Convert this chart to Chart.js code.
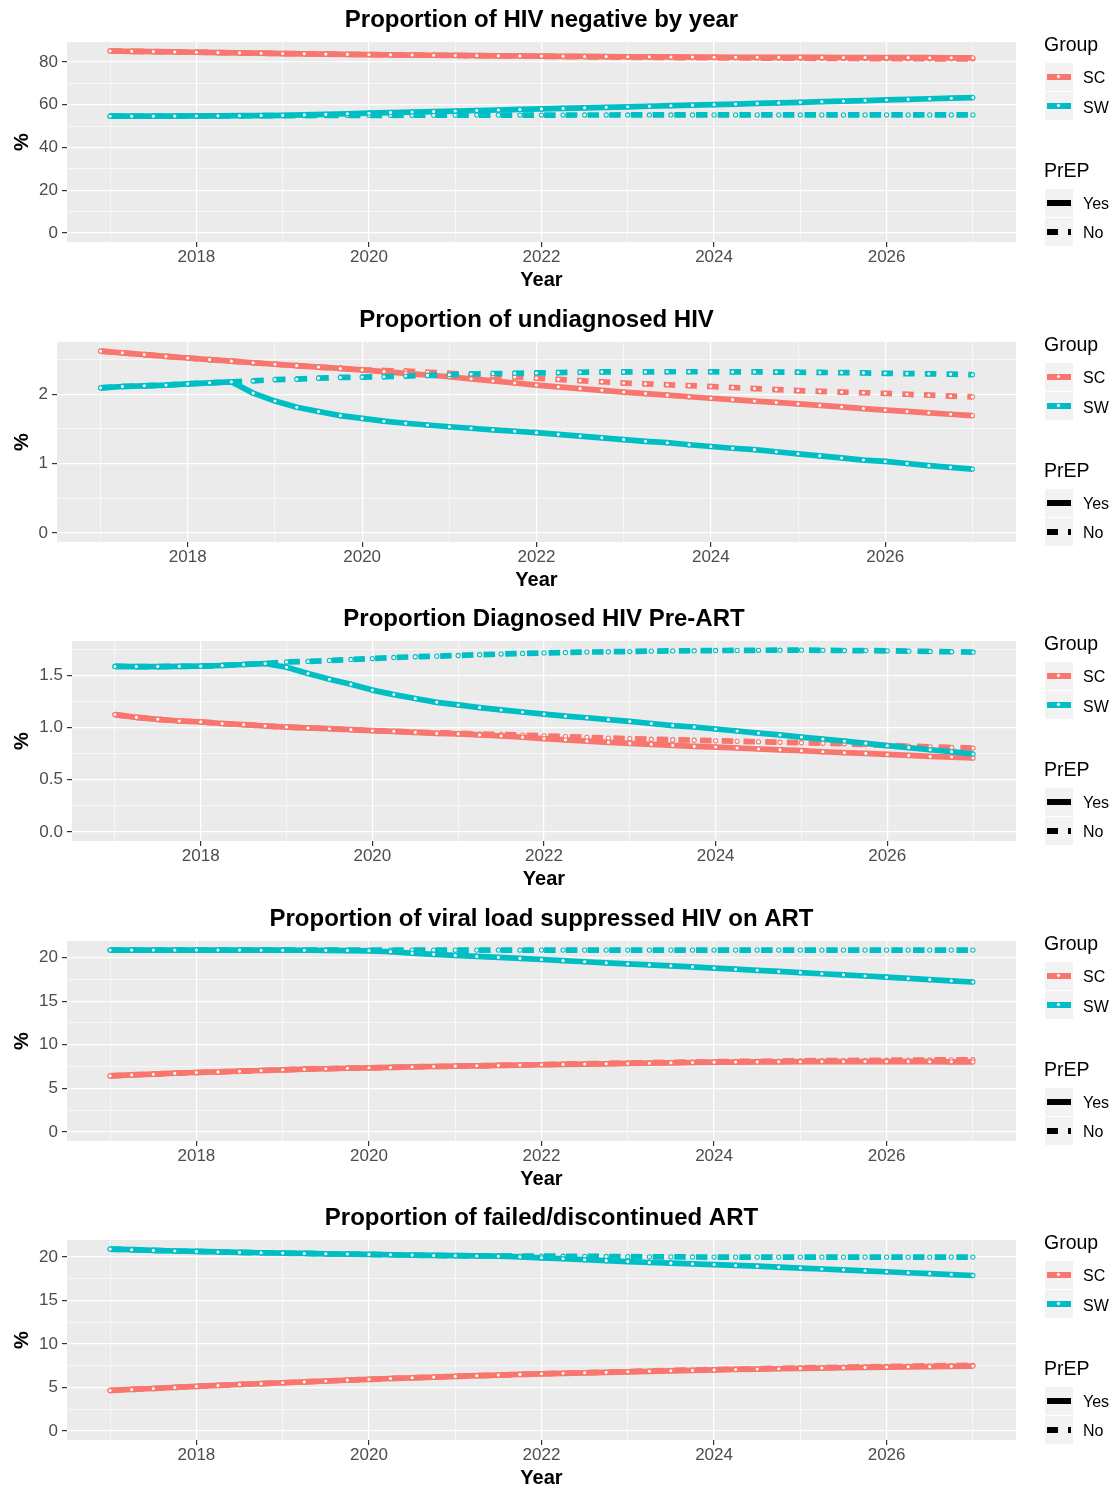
<!DOCTYPE html>
<html>
<head>
<meta charset="utf-8">
<script src="https://cdn.jsdelivr.net/npm/chart.js@4/dist/chart.umd.min.js"></script>
<style>
  html, body { margin: 0; padding: 0; background: #fff; width: 1113px; height: 1488px; overflow: hidden;
    font-family: "Liberation Sans", Arial, Helvetica, sans-serif; }
  .panel { position: absolute; left: 0; width: 1113px; height: 300px; }
  .panel canvas { position: absolute; left: 0; top: 0; }
  .lg-title { position: absolute; left: 1044px; height: 24px; line-height: 24px; font-size: 19.5px; color: #000; white-space: nowrap; }
  .lg-key { position: absolute; left: 1045px; width: 28px; height: 28px; background: #F2F2F2; }
  .lg-lab { position: absolute; left: 1083px; height: 20px; line-height: 20px; font-size: 16px; color: #000; white-space: nowrap; }
  .bar { position: absolute; top: 11.2px; height: 5.7px; }
  .dot { position: absolute; left: 11.4px; top: 11.4px; width: 3px; height: 3px; border-radius: 50%; background: #fff; border: 1px solid; }
</style>
</head>
<body>
<script>
// Quarterly time points, 2017 to 2027
const quarters = [2017, 2017.25, 2017.5, 2017.75, 2018, 2018.25, 2018.5, 2018.75, 2019, 2019.25, 2019.5, 2019.75,
  2020, 2020.25, 2020.5, 2020.75, 2021, 2021.25, 2021.5, 2021.75, 2022, 2022.25, 2022.5, 2022.75,
  2023, 2023.25, 2023.5, 2023.75, 2024, 2024.25, 2024.5, 2024.75, 2025, 2025.25, 2025.5, 2025.75,
  2026, 2026.25, 2026.5, 2026.75, 2027];

// Proportion of HIV negative by year
const hivNeg_SC_Yes = [85.1,84.95,84.8,84.65, 84.5,84.35,84.2,84.05, 83.9,83.77,83.65,83.52, 83.4,83.3,83.2,83.1, 83.0,82.92,82.85,82.77, 82.7,82.62,82.55,82.47, 82.4,82.35,82.3,82.25, 82.2,82.17,82.15,82.12, 82.1,82.07,82.05,82.02, 82.0,81.97,81.95,81.92, 81.9];
const hivNeg_SC_No  = [85.1,84.95,84.8,84.65, 84.5,84.35,84.2,84.05, 83.9,83.77,83.65,83.52, 83.4,83.3,83.2,83.1, 83.0,82.9,82.8,82.7, 82.6,82.5,82.4,82.3, 82.2,82.12,82.05,81.97, 81.9,81.85,81.8,81.75, 81.7,81.65,81.6,81.55, 81.5,81.47,81.45,81.42, 81.4];
const hivNeg_SW_Yes = [54.6,54.6,54.62,54.65, 54.7,54.75,54.82,54.9, 55.0,55.2,55.45,55.75, 56.0,56.25,56.5,56.75, 57.0,57.25,57.5,57.75, 58.0,58.25,58.5,58.75, 59.0,59.25,59.5,59.75, 60.0,60.27,60.55,60.82, 61.1,61.37,61.65,61.92, 62.2,62.47,62.75,63.02, 63.3];
const hivNeg_SW_No  = [54.6,54.6,54.62,54.65, 54.7,54.74,54.78,54.82, 54.86,54.9,54.93,54.96, 55.0,55.02,55.04,55.06, 55.08,55.1,55.11,55.12, 55.13,55.14,55.15,55.16, 55.17,55.17,55.18,55.18, 55.19,55.19,55.2,55.2, 55.2,55.2,55.2,55.2, 55.2,55.2,55.2,55.2, 55.2];

// Proportion of undiagnosed HIV
const undiag_SC_Yes = [2.62,2.595,2.57,2.545, 2.52,2.497,2.475,2.452, 2.43,2.41,2.39,2.37, 2.35,2.325,2.3,2.275, 2.25,2.22,2.19,2.16, 2.13,2.105,2.08,2.055, 2.03,2.008,1.985,1.962, 1.94,1.92,1.9,1.88, 1.86,1.838,1.815,1.792, 1.77,1.75,1.73,1.71, 1.69];
const undiag_SC_No  = [2.62,2.595,2.57,2.545, 2.52,2.497,2.475,2.452, 2.43,2.41,2.39,2.37, 2.35,2.34,2.33,2.315, 2.3,2.283,2.265,2.248, 2.23,2.213,2.195,2.178, 2.16,2.148,2.135,2.122, 2.11,2.095,2.08,2.065, 2.05,2.04,2.03,2.02, 2.01,1.998,1.985,1.972, 1.96];
const undiag_SW_Yes = [2.09,2.11,2.12,2.13, 2.148,2.163,2.177,2.014, 1.9,1.81,1.75,1.69, 1.65,1.61,1.58,1.555, 1.53,1.508,1.486,1.465, 1.445,1.42,1.395,1.37, 1.345,1.32,1.3,1.27, 1.245,1.22,1.2,1.17, 1.14,1.11,1.08,1.05, 1.03,1.0,0.97,0.945, 0.92];
const undiag_SW_No  = [2.09,2.11,2.12,2.13, 2.148,2.163,2.177,2.19, 2.21,2.215,2.23,2.24, 2.245,2.25,2.26,2.27, 2.28,2.29,2.295,2.3, 2.305,2.31,2.315,2.32, 2.32,2.32,2.322,2.322, 2.322,2.32,2.32,2.318, 2.315,2.312,2.31,2.306, 2.3,2.296,2.292,2.288, 2.28];

// Proportion diagnosed HIV pre-ART
const preArt_SC_Yes = [1.125,1.099,1.08,1.064, 1.055,1.04,1.029,1.016, 1.006,0.997,0.99,0.981, 0.971,0.965,0.955,0.945, 0.94,0.93,0.92,0.908, 0.895,0.883,0.871,0.859, 0.849,0.84,0.83,0.82, 0.814,0.805,0.795,0.787, 0.779,0.769,0.76,0.753, 0.743,0.734,0.724,0.718, 0.709];
const preArt_SC_No  = [1.125,1.099,1.08,1.064, 1.055,1.04,1.029,1.016, 1.006,0.997,0.99,0.981, 0.971,0.965,0.957,0.95, 0.945,0.94,0.935,0.928, 0.921,0.914,0.907,0.9, 0.895,0.889,0.884,0.879, 0.874,0.869,0.864,0.86, 0.855,0.85,0.845,0.838, 0.83,0.823,0.816,0.81, 0.804];
const preArt_SW_Yes = [1.587,1.586,1.586,1.588, 1.59,1.596,1.606,1.615, 1.58,1.52,1.465,1.416, 1.36,1.317,1.279,1.243, 1.218,1.192,1.17,1.15, 1.13,1.11,1.095,1.077, 1.06,1.04,1.02,1.006, 0.987,0.968,0.948,0.93, 0.91,0.89,0.872,0.85, 0.827,0.808,0.788,0.77, 0.747];
const preArt_SW_No  = [1.587,1.586,1.586,1.588, 1.59,1.596,1.606,1.615, 1.63,1.635,1.645,1.654, 1.663,1.673,1.68,1.686, 1.692,1.7,1.706,1.712, 1.717,1.721,1.725,1.728, 1.73,1.734,1.736,1.738, 1.74,1.741,1.742,1.743, 1.744,1.742,1.74,1.739, 1.737,1.734,1.731,1.728, 1.724];

// Proportion of viral load suppressed HIV on ART
const vls_SC_Yes = [6.42,6.54,6.62,6.73, 6.81,6.88,6.96,7.04, 7.12,7.19,7.24,7.3, 7.35,7.39,7.45,7.5, 7.54,7.58,7.62,7.66, 7.7,7.74,7.78,7.81, 7.85,7.88,7.92,7.96, 8.0,8.01,8.03,8.04, 8.05,8.06,8.06,8.07, 8.07,8.06,8.05,8.04, 8.03];
const vls_SC_No  = [6.42,6.54,6.62,6.73, 6.81,6.88,6.96,7.04, 7.12,7.19,7.24,7.3, 7.35,7.39,7.45,7.5, 7.54,7.58,7.62,7.67, 7.72,7.77,7.82,7.86, 7.9,7.94,7.98,8.01, 8.05,8.08,8.1,8.12, 8.15,8.17,8.18,8.2, 8.22,8.24,8.25,8.27, 8.28];
const vls_SW_Yes = [20.85,20.85,20.85,20.85, 20.85,20.85,20.85,20.84, 20.84,20.83,20.82,20.8, 20.77,20.66,20.5,20.36, 20.24,20.12,20.01,19.9, 19.77,19.64,19.51,19.38, 19.27,19.15,19.04,18.92, 18.79,18.66,18.53,18.4, 18.27,18.14,18.01,17.88, 17.74,17.6,17.46,17.32, 17.19];
const vls_SW_No  = [20.85,20.85,20.85,20.85, 20.85,20.85,20.85,20.85, 20.85,20.85,20.85,20.85, 20.85,20.85,20.85,20.85, 20.85,20.85,20.85,20.85, 20.85,20.85,20.85,20.85, 20.85,20.85,20.85,20.85, 20.85,20.85,20.85,20.85, 20.85,20.85,20.85,20.85, 20.85,20.85,20.85,20.85, 20.85];

// Proportion of failed/discontinued ART
const failed_SC_Yes = [4.65,4.77,4.88,5.0, 5.12,5.23,5.34,5.44, 5.54,5.64,5.74,5.84, 5.93,6.03,6.11,6.19, 6.27,6.35,6.42,6.5, 6.57,6.63,6.68,6.74, 6.8,6.86,6.91,6.96, 7.02,7.07,7.11,7.15, 7.19,7.23,7.27,7.31, 7.34,7.37,7.4,7.43, 7.46];
const failed_SC_No  = [4.65,4.77,4.88,5.0, 5.12,5.23,5.34,5.44, 5.54,5.64,5.74,5.84, 5.93,6.03,6.11,6.19, 6.27,6.35,6.42,6.5, 6.57,6.64,6.7,6.76, 6.83,6.89,6.95,7.0, 7.06,7.11,7.16,7.2, 7.25,7.29,7.33,7.37, 7.41,7.45,7.48,7.52, 7.55];
const failed_SW_Yes = [20.92,20.85,20.77,20.7, 20.65,20.59,20.54,20.5, 20.46,20.42,20.38,20.35, 20.31,20.27,20.23,20.19, 20.16,20.13,20.1,20.02, 19.92,19.81,19.7,19.59, 19.48,19.38,19.3,19.22, 19.14,19.04,18.95,18.85, 18.74,18.63,18.53,18.42, 18.31,18.2,18.1,17.99, 17.88];
const failed_SW_No  = [20.92,20.85,20.77,20.7, 20.65,20.59,20.54,20.5, 20.46,20.42,20.38,20.35, 20.31,20.27,20.23,20.19, 20.16,20.14,20.13,20.12, 20.11,20.1,20.09,20.07, 20.05,20.03,20.02,20.01, 20.0,20.0,20.0,20.0, 20.0,20.0,20.0,20.0, 20.0,20.0,20.0,20.0, 20.0];

// Axis breaks and labels
const xMajor = [2018, 2020, 2022, 2024, 2026];
const xLabels = ['2018', '2020', '2022', '2024', '2026'];
const xMinor = [2017, 2019, 2021, 2023, 2025, 2027];

const yMajor1 = [0, 20, 40, 60, 80];         const yLabels1 = ['0', '20', '40', '60', '80'];      const yMinor1 = [10, 30, 50, 70];
const yMajor2 = [0, 1, 2];                   const yLabels2 = ['0', '1', '2'];                     const yMinor2 = [0.5, 1.5, 2.5];
const yMajor3 = [0, 0.5, 1.0, 1.5];          const yLabels3 = ['0.0', '0.5', '1.0', '1.5'];        const yMinor3 = [0.25, 0.75, 1.25, 1.75];
const yMajor4 = [0, 5, 10, 15, 20];          const yLabels4 = ['0', '5', '10', '15', '20'];        const yMinor4 = [2.5, 7.5, 12.5, 17.5];
const yMajor5 = [0, 5, 10, 15, 20];          const yLabels5 = ['0', '5', '10', '15', '20'];        const yMinor5 = [2.5, 7.5, 12.5, 17.5];

const groupNames = ['SC', 'SW'];
const prepNames = ['Yes', 'No'];
const titles = [
  'Proportion of HIV negative by year',
  'Proportion of undiagnosed HIV',
  'Proportion Diagnosed HIV Pre-ART',
  'Proportion of viral load suppressed HIV on ART',
  'Proportion of failed/discontinued ART'
];

const COL_SC = '#F8766D';
const COL_SW = '#00BFC4';
const FONT = '"Liberation Sans", Arial, Helvetica, sans-serif';
Chart.defaults.font.family = FONT;

const panels = [
  { title: titles[0], left: 67, yMin: -4.25, yMax: 89.3, major: yMajor1, labels: yLabels1, minor: yMinor1,
    scYes: hivNeg_SC_Yes, scNo: hivNeg_SC_No, swYes: hivNeg_SW_Yes, swNo: hivNeg_SW_No },
  { title: titles[1], left: 57, yMin: -0.131, yMax: 2.751, major: yMajor2, labels: yLabels2, minor: yMinor2,
    scYes: undiag_SC_Yes, scNo: undiag_SC_No, swYes: undiag_SW_Yes, swNo: undiag_SW_No },
  { title: titles[2], left: 72, yMin: -0.0872, yMax: 1.8312, major: yMajor3, labels: yLabels3, minor: yMinor3,
    scYes: preArt_SC_Yes, scNo: preArt_SC_No, swYes: preArt_SW_Yes, swNo: preArt_SW_No },
  { title: titles[3], left: 67, yMin: -1.0425, yMax: 21.8925, major: yMajor4, labels: yLabels4, minor: yMinor4,
    scYes: vls_SC_Yes, scNo: vls_SC_No, swYes: vls_SW_Yes, swNo: vls_SW_No },
  { title: titles[4], left: 67, yMin: -1.046, yMax: 21.966, major: yMajor5, labels: yLabels5, minor: yMinor5,
    scYes: failed_SC_Yes, scNo: failed_SC_No, swYes: failed_SW_Yes, swNo: failed_SW_No }
];

const toXY = arr => quarters.map((q, i) => ({ x: q, y: arr[i] }));

function lineSet(arr, color, dashed) {
  return { data: toXY(arr), borderColor: color, borderWidth: 5.7, borderDash: dashed ? [11.5, 10.2] : [],
    borderCapStyle: 'butt', borderJoinStyle: 'round', pointRadius: 0, pointHoverRadius: 0, fill: false, tension: 0 };
}
function dotSet(arr, color) {
  return { data: toXY(arr), showLine: false, pointRadius: 2.1, pointHoverRadius: 2.1, pointBorderWidth: 1.1,
    pointBackgroundColor: '#ffffff', pointBorderColor: color };
}

// grey panel background behind the grid
const panelBg = {
  id: 'panelBg',
  beforeDraw(chart) {
    const a = chart.chartArea, ctx = chart.ctx;
    ctx.save();
    ctx.fillStyle = '#EBEBEB';
    ctx.fillRect(a.left, a.top, a.right - a.left, a.bottom - a.top);
    ctx.restore();
  }
};

const gridOpts = {
  color: '#ffffff',
  lineWidth: c => (c.tick && c.tick.minor) ? 0.6 : 1.2,
  tickColor: c => (c.tick && c.tick.minor) ? 'rgba(0,0,0,0)' : '#333333',
  tickLength: 5,
  tickWidth: 1.2,
  drawTicks: true
};

function legendHtml() {
  const key = (top, inner) => `<div class="lg-key" style="top:${top}px">${inner}</div>`;
  const colorKey = c => `<div class="bar" style="left:2px;width:24px;background:${c}"></div><div class="dot" style="border-color:${c}"></div>`;
  return `
    <div class="lg-title" style="top:32px">Group</div>
    ${key(63, colorKey(COL_SC))}<div class="lg-lab" style="top:68px">${groupNames[0]}</div>
    ${key(92, colorKey(COL_SW))}<div class="lg-lab" style="top:97.5px">${groupNames[1]}</div>
    <div class="lg-title" style="top:158px">PrEP</div>
    ${key(189, '<div class="bar" style="left:2px;width:24px;background:#000"></div>')}<div class="lg-lab" style="top:194px">${prepNames[0]}</div>
    ${key(218, '<div class="bar" style="left:1.7px;width:11.6px;background:#000"></div><div class="bar" style="left:23.3px;width:2.4px;background:#000"></div>')}<div class="lg-lab" style="top:223px">${prepNames[1]}</div>`;
}

panels.forEach((p, idx) => {
  const div = document.createElement('div');
  div.className = 'panel';
  div.style.top = Math.round(idx * 299.5) + 'px';
  const cv = document.createElement('canvas');
  cv.width = 1113; cv.height = 300;
  cv.style.width = '1113px'; cv.style.height = '300px';
  div.appendChild(cv);
  div.insertAdjacentHTML('beforeend', legendHtml());
  document.body.appendChild(div);

  new Chart(cv.getContext('2d'), {
    type: 'line',
    data: {
      datasets: [
        dotSet(p.swYes, COL_SW), dotSet(p.swNo, COL_SW), dotSet(p.scYes, COL_SC), dotSet(p.scNo, COL_SC),
        lineSet(p.swYes, COL_SW, false), lineSet(p.swNo, COL_SW, true),
        lineSet(p.scYes, COL_SC, false), lineSet(p.scNo, COL_SC, true)
      ]
    },
    plugins: [panelBg],
    options: {
      responsive: false, animation: false, devicePixelRatio: 1, events: [],
      layout: { padding: { left: 0, right: 97, top: 0, bottom: 0 } },
      plugins: {
        legend: { display: false },
        tooltip: { enabled: false },
        title: { display: true, text: p.title, fullSize: false, color: '#000',
          font: { size: 24, weight: 'bold', family: FONT }, padding: { top: 6, bottom: 7.2 } }
      },
      scales: {
        x: {
          type: 'linear', min: 2016.5, max: 2027.5,
          afterBuildTicks: s => { s.ticks = xMajor.concat(xMinor).sort((a, b) => a - b).map(v => ({ value: v, minor: xMinor.includes(v) })); },
          afterFit: s => { s.height = 58; },
          ticks: { autoSkip: false, maxRotation: 0, padding: 0.5, color: '#4D4D4D', font: { size: 17 },
            callback: v => { const k = xMajor.indexOf(v); return k >= 0 ? xLabels[k] : ''; } },
          grid: gridOpts,
          border: { display: false },
          title: { display: true, text: 'Year', color: '#000', font: { size: 20, weight: 'bold' }, padding: { top: 0, bottom: 8 } }
        },
        y: {
          type: 'linear', min: p.yMin, max: p.yMax,
          afterBuildTicks: s => { s.ticks = p.major.concat(p.minor).sort((a, b) => a - b).map(v => ({ value: v, minor: p.minor.includes(v) })); },
          afterFit: s => { s.width = p.left; },
          ticks: { autoSkip: false, padding: 4, color: '#4D4D4D', font: { size: 17 },
            callback: v => { const k = p.major.indexOf(v); return k >= 0 ? p.labels[k] : ''; } },
          grid: gridOpts,
          border: { display: false },
          title: { display: true, text: '%', color: '#000', font: { size: 20, weight: 'bold' }, padding: { top: 10, bottom: 0 } }
        }
      }
    }
  });
});
</script>
</body>
</html>
